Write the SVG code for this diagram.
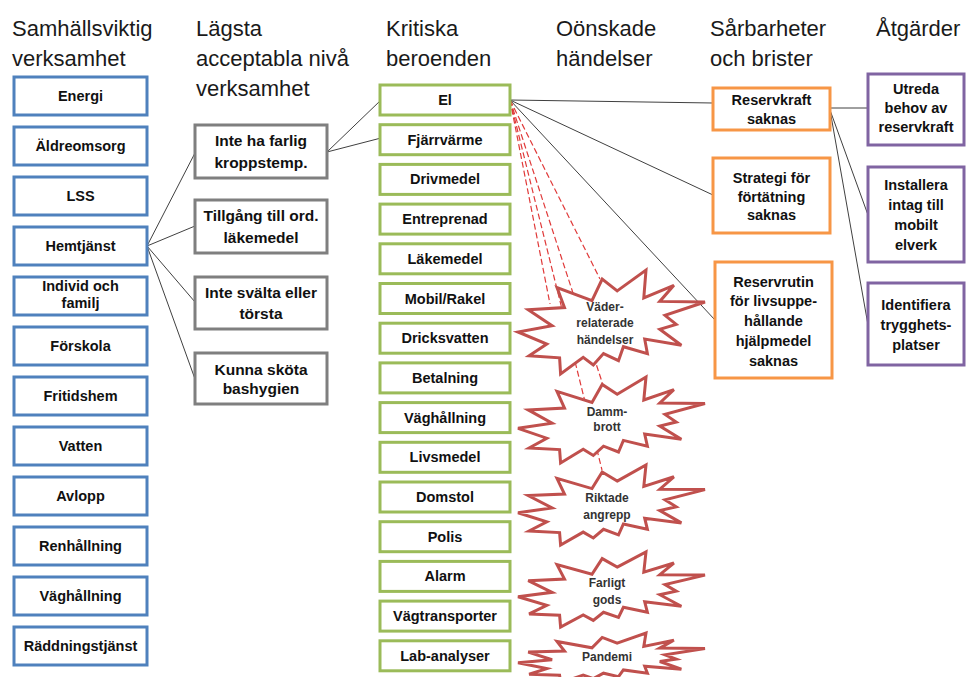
<svg xmlns="http://www.w3.org/2000/svg" width="966" height="677" viewBox="0 0 966 677">
<style>
.hdr{font-family:"Liberation Sans",Arial,sans-serif;font-size:22px;fill:#1a1a1a}
.t{font-family:"Liberation Sans",Arial,sans-serif;font-weight:bold;font-size:14.5px;fill:#111;text-anchor:middle}
.tg{font-size:15.5px}
.ts{font-size:12px;fill:#333}
.blue{fill:#fff;stroke:#4f81bd;stroke-width:3}
.gray{fill:#fff;stroke:#7f7f7f;stroke-width:3}
.green{fill:#fff;stroke:#9bbb59;stroke-width:3}
.orange{fill:#fff;stroke:#f79646;stroke-width:3}
.purple{fill:#fff;stroke:#8064a2;stroke-width:3}
.seal{fill:#fff;stroke:#c0504d;stroke-width:3;stroke-linejoin:miter}
.conn{stroke:#404040;stroke-width:1;fill:none}
.dash{stroke:#e03a3a;stroke-width:1.2;stroke-dasharray:6 3;fill:none}
</style>
<rect width="966" height="677" fill="#fff"/>
<g id="headers">
<text class="hdr" x="12" y="36">Samhällsviktig</text>
<text class="hdr" x="12" y="66">verksamhet</text>
<text class="hdr" x="196" y="36">Lägsta</text>
<text class="hdr" x="196" y="66">acceptabla nivå</text>
<text class="hdr" x="196" y="96">verksamhet</text>
<text class="hdr" x="386" y="36">Kritiska</text>
<text class="hdr" x="386" y="66">beroenden</text>
<text class="hdr" x="556" y="36">Oönskade</text>
<text class="hdr" x="556" y="66">händelser</text>
<text class="hdr" x="710" y="36">Sårbarheter</text>
<text class="hdr" x="710" y="66">och brister</text>
<text class="hdr" x="876" y="36">Åtgärder</text>
</g>
<g id="connectors">
<line class="conn" x1="147" y1="246" x2="196" y2="151"/>
<line class="conn" x1="147" y1="246" x2="195" y2="226"/>
<line class="conn" x1="147" y1="246" x2="195" y2="302"/>
<line class="conn" x1="147" y1="246" x2="195" y2="379"/>
<line class="conn" x1="327" y1="152" x2="381" y2="100"/>
<line class="conn" x1="327" y1="152" x2="381" y2="138"/>
<line class="conn" x1="510" y1="100" x2="713" y2="103"/>
<line class="conn" x1="510" y1="100" x2="713" y2="195"/>
<line class="conn" x1="510" y1="100" x2="715" y2="320"/>
<line class="conn" x1="830" y1="108" x2="868" y2="108"/>
<line class="conn" x1="830" y1="110" x2="868" y2="215"/>
<line class="conn" x1="830" y1="110" x2="868" y2="325"/>
<line class="dash" x1="510" y1="100" x2="550" y2="304"/>
<line class="dash" x1="510" y1="100" x2="602" y2="470"/>
<line class="dash" x1="510" y1="100" x2="603" y2="385"/>
<line class="dash" x1="510" y1="100" x2="600" y2="279"/>
</g>
<g id="n-energi"><rect class="blue" x="14" y="77" width="133" height="38"/><text class="t" x="80.5" y="101">Energi</text></g>
<g id="n-aldreomsorg"><rect class="blue" x="14" y="127" width="133" height="38"/><text class="t" x="80.5" y="151">Äldreomsorg</text></g>
<g id="n-lss"><rect class="blue" x="14" y="177" width="133" height="38"/><text class="t" x="80.5" y="201">LSS</text></g>
<g id="n-hemtjanst"><rect class="blue" x="14" y="227" width="133" height="38"/><text class="t" x="80.5" y="251">Hemtjänst</text></g>
<g id="n-individ"><rect class="blue" x="14" y="277" width="133" height="38"/><text class="t" x="80.5" y="291">Individ och</text><text class="t" x="80.5" y="308">familj</text></g>
<g id="n-forskola"><rect class="blue" x="14" y="327" width="133" height="38"/><text class="t" x="80.5" y="351">Förskola</text></g>
<g id="n-fritidshem"><rect class="blue" x="14" y="377" width="133" height="38"/><text class="t" x="80.5" y="401">Fritidshem</text></g>
<g id="n-vatten"><rect class="blue" x="14" y="427" width="133" height="38"/><text class="t" x="80.5" y="451">Vatten</text></g>
<g id="n-avlopp"><rect class="blue" x="14" y="477" width="133" height="38"/><text class="t" x="80.5" y="501">Avlopp</text></g>
<g id="n-renhallning"><rect class="blue" x="14" y="527" width="133" height="38"/><text class="t" x="80.5" y="551">Renhållning</text></g>
<g id="n-vaghallning1"><rect class="blue" x="14" y="577" width="133" height="38"/><text class="t" x="80.5" y="601">Väghållning</text></g>
<g id="n-raddning"><rect class="blue" x="14" y="627" width="133" height="38"/><text class="t" x="80.5" y="651">Räddningstjänst</text></g>
<g id="n-kroppstemp"><rect class="gray" x="195" y="125" width="132" height="53"/><text class="t tg" x="261" y="146">Inte ha farlig</text><text class="t tg" x="261" y="168">kroppstemp.</text></g>
<g id="n-lakemedel-ord"><rect class="gray" x="195" y="200" width="132" height="53"/><text class="t tg" x="261" y="221">Tillgång till ord.</text><text class="t tg" x="261" y="243">läkemedel</text></g>
<g id="n-svalta"><rect class="gray" x="195" y="277" width="132" height="52"/><text class="t tg" x="261" y="298">Inte svälta eller</text><text class="t tg" x="261" y="319">törsta</text></g>
<g id="n-hygien"><rect class="gray" x="195" y="353" width="132" height="51"/><text class="t tg" x="261" y="375">Kunna sköta</text><text class="t tg" x="261" y="394">bashygien</text></g>
<g id="n-el"><rect class="green" x="380" y="85" width="130" height="30"/><text class="t" x="445" y="105">El</text></g>
<g id="n-fjarrvarme"><rect class="green" x="380" y="124.7" width="130" height="30"/><text class="t" x="445" y="144.7">Fjärrvärme</text></g>
<g id="n-drivmedel"><rect class="green" x="380" y="164.4" width="130" height="30"/><text class="t" x="445" y="184.4">Drivmedel</text></g>
<g id="n-entreprenad"><rect class="green" x="380" y="204.1" width="130" height="30"/><text class="t" x="445" y="224.1">Entreprenad</text></g>
<g id="n-lakemedel"><rect class="green" x="380" y="243.8" width="130" height="30"/><text class="t" x="445" y="263.8">Läkemedel</text></g>
<g id="n-mobil"><rect class="green" x="380" y="283.5" width="130" height="30"/><text class="t" x="445" y="303.5">Mobil/Rakel</text></g>
<g id="n-dricksvatten"><rect class="green" x="380" y="323.2" width="130" height="30"/><text class="t" x="445" y="343.2">Dricksvatten</text></g>
<g id="n-betalning"><rect class="green" x="380" y="362.9" width="130" height="30"/><text class="t" x="445" y="382.9">Betalning</text></g>
<g id="n-vaghallning2"><rect class="green" x="380" y="402.6" width="130" height="30"/><text class="t" x="445" y="422.6">Väghållning</text></g>
<g id="n-livsmedel"><rect class="green" x="380" y="442.3" width="130" height="30"/><text class="t" x="445" y="462.3">Livsmedel</text></g>
<g id="n-domstol"><rect class="green" x="380" y="482" width="130" height="30"/><text class="t" x="445" y="502">Domstol</text></g>
<g id="n-polis"><rect class="green" x="380" y="521.7" width="130" height="30"/><text class="t" x="445" y="541.7">Polis</text></g>
<g id="n-alarm"><rect class="green" x="380" y="561.4" width="130" height="30"/><text class="t" x="445" y="581.4">Alarm</text></g>
<g id="n-vagtransporter"><rect class="green" x="380" y="601.1" width="130" height="30"/><text class="t" x="445" y="621.1">Vägtransporter</text></g>
<g id="n-lab"><rect class="green" x="380" y="640.8" width="130" height="30"/><text class="t" x="445" y="660.8">Lab-analyser</text></g>
<g id="n-vader"><polygon class="seal" points="617.2,290.9 646,270 643.8,297.8 673.9,285.3 659.8,301.4 705,302 665,315.3 676.2,324.4 659.8,329.3 681.4,345.3 644.7,339.1 647.4,353.6 623.4,346.7 618.5,360.7 603.5,353.6 593.3,364.9 583.2,357.3 560.6,374 559.6,357.8 529.1,355.8 546.8,344 518,332 552.1,325.8 528.2,309.8 564.5,307.6 557,287.5 592,300.7 602.2,279.1"/><text class="t ts" x="605" y="311">Väder-</text><text class="t ts" x="605" y="327">relaterade</text><text class="t ts" x="605" y="344">händelser</text></g>
<g id="n-damm"><polygon class="seal" points="617.2,394.3 646,377 643.8,400 673.9,389.6 659.8,403 705,403.5 665,414.4 676.2,422 659.8,426 681.4,439.2 644.7,434.1 647.4,446.2 623.4,440.4 618.5,452 603.5,446.2 593.3,455.5 583.2,449.2 560.6,463 559.6,449.6 529.1,448 546.8,438.2 518,428.3 552.1,423.2 528.2,409.9 564.5,408.1 557,391.4 592,402.4 602.2,384.5"/><text class="t ts" x="607" y="416">Damm-</text><text class="t ts" x="607" y="431">brott</text></g>
<g id="n-riktade"><polygon class="seal" points="617.2,481.1 646,465 643.8,486.4 673.9,476.8 659.8,489.2 705,489.6 665,499.8 676.2,506.8 659.8,510.6 681.4,522.9 644.7,518.2 647.4,529.3 623.4,524 618.5,534.8 603.5,529.3 593.3,538 583.2,532.1 560.6,545 559.6,532.6 529.1,531 546.8,521.9 518,512.7 552.1,507.9 528.2,495.6 564.5,494 557,478.4 592,488.6 602.2,472"/><text class="t ts" x="607" y="502">Riktade</text><text class="t ts" x="607" y="519">angrepp</text></g>
<g id="n-farligt"><polygon class="seal" points="617.2,567.1 646,552 643.8,572.1 673.9,563 659.8,574.7 705,575.1 665,584.6 676.2,591.2 659.8,594.7 681.4,606.3 644.7,601.8 647.4,612.3 623.4,607.3 618.5,617.4 603.5,612.3 593.3,620.4 583.2,614.9 560.6,627 559.6,615.3 529.1,613.9 546.8,605.4 518,596.7 552.1,592.3 528.2,580.7 564.5,579.1 557,564.6 592,574.2 602.2,558.6"/><text class="t ts" x="607" y="587">Farligt</text><text class="t ts" x="607" y="604">gods</text></g>
<g id="n-pandemi"><polygon class="seal" points="617.2,643.1 646,633 643.8,646.4 673.9,640.3 659.8,648.1 705,648.4 665,654.8 676.2,659.1 659.8,661.5 681.4,669.2 644.7,666.2 647.4,673.2 623.4,669.9 618.5,676.6 603.5,673.2 593.3,678.6 583.2,675 560.6,683 559.6,675.2 529.1,674.3 546.8,668.6 518,662.8 552.1,659.8 528.2,652.1 564.5,651.1 557,641.4 592,647.8 602.2,637.4"/><text class="t ts" x="607" y="661">Pandemi</text></g>
<g id="n-reservkraft"><rect class="orange" x="713" y="88" width="117" height="42"/><text class="t" x="771.5" y="105">Reservkraft</text><text class="t" x="771.5" y="124">saknas</text></g>
<g id="n-strategi"><rect class="orange" x="713" y="158" width="117" height="75"/><text class="t" x="771.5" y="183">Strategi för</text><text class="t" x="771.5" y="202">förtätning</text><text class="t" x="771.5" y="220">saknas</text></g>
<g id="n-reservrutin"><rect class="orange" x="715" y="262" width="117" height="116"/><text class="t" x="773.5" y="287">Reservrutin</text><text class="t" x="773.5" y="306">för livsuppe-</text><text class="t" x="773.5" y="326">hållande</text><text class="t" x="773.5" y="346">hjälpmedel</text><text class="t" x="773.5" y="366">saknas</text></g>
<g id="n-utreda"><rect class="purple" x="868" y="74" width="96" height="71"/><text class="t" x="916" y="94">Utreda</text><text class="t" x="916" y="113">behov av</text><text class="t" x="916" y="132">reservkraft</text></g>
<g id="n-installera"><rect class="purple" x="868" y="167" width="96" height="95"/><text class="t" x="916" y="190">Installera</text><text class="t" x="916" y="210">intag till</text><text class="t" x="916" y="230">mobilt</text><text class="t" x="916" y="250">elverk</text></g>
<g id="n-identifiera"><rect class="purple" x="868" y="283" width="96" height="82"/><text class="t" x="916" y="310">Identifiera</text><text class="t" x="916" y="330">trygghets-</text><text class="t" x="916" y="350">platser</text></g>
</svg>
